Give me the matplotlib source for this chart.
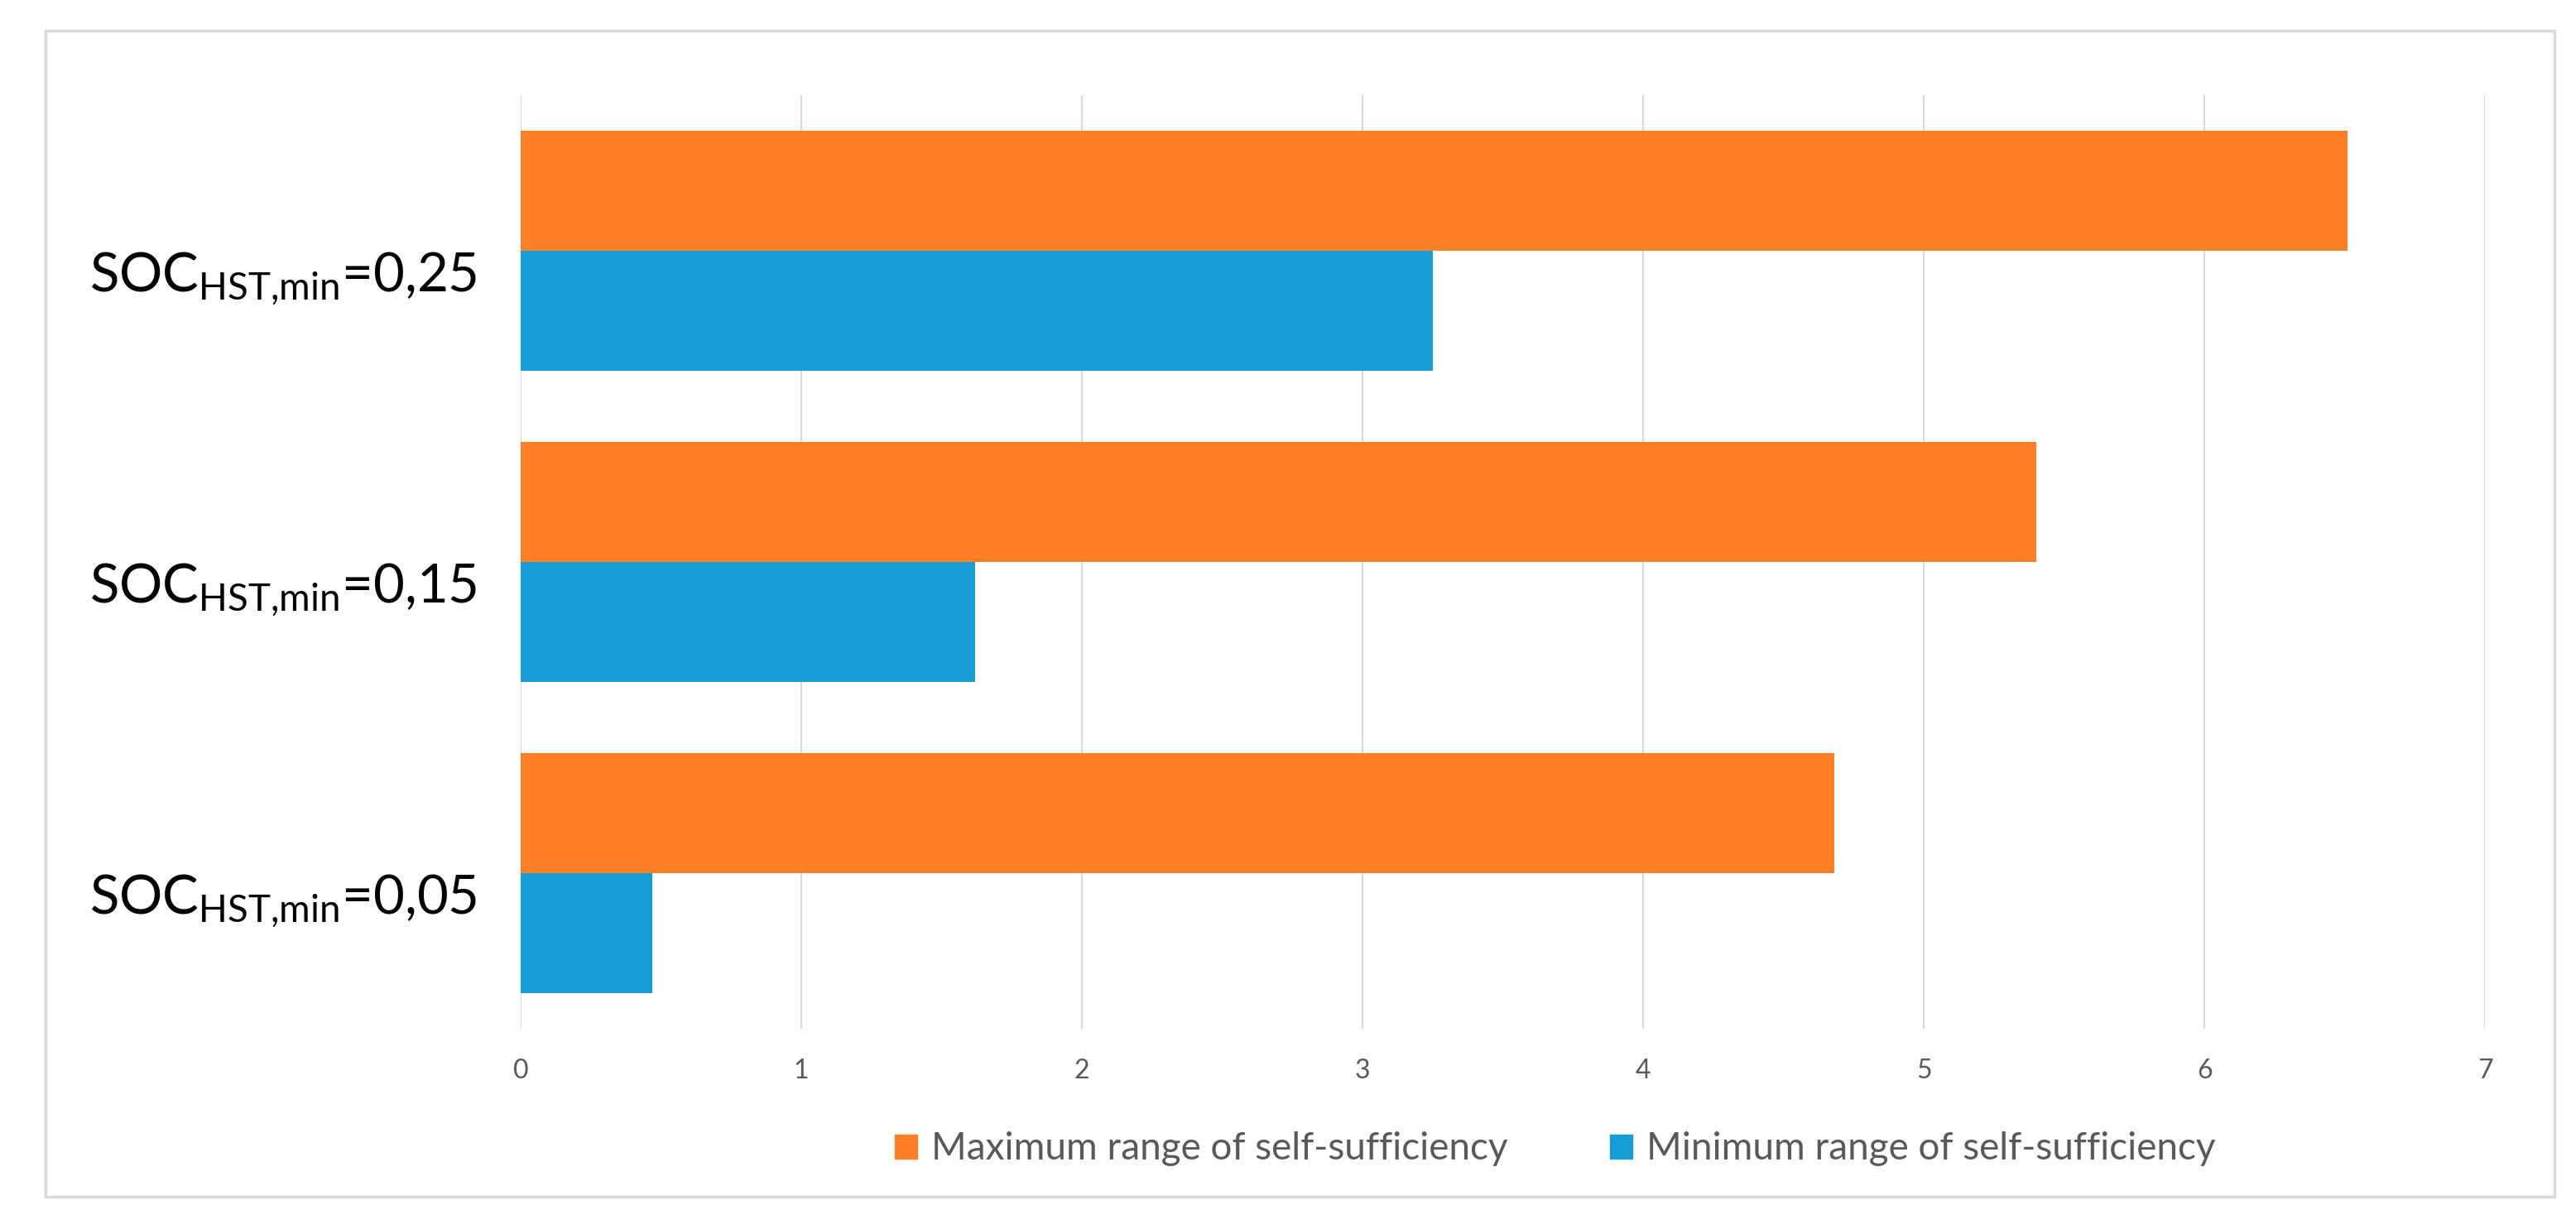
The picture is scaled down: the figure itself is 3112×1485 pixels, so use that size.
import matplotlib
matplotlib.use('Agg')
import matplotlib.pyplot as plt
from matplotlib.patches import Patch, Rectangle

plt.rcParams['font.family'] = ['Lato', 'DejaVu Sans']
plt.rcParams['mathtext.fontset'] = 'custom'
plt.rcParams['mathtext.rm'] = 'Lato'
plt.rcParams['mathtext.it'] = 'Lato:italic'
plt.rcParams['mathtext.bf'] = 'Lato:bold'

# data (bottom to top)
categories = ['0,05', '0,15', '0,25']
max_range = [4.68, 5.40, 6.51]
min_range = [0.47, 1.62, 3.25]
series_names = ['Maximum range of self-sufficiency', 'Minimum range of self-sufficiency']
x_ticks = [0, 1, 2, 3, 4, 5, 6, 7]

orange = '#FF7F27'
blue = '#179CD8'
grid_col = '#D9D9D9'
text_col = '#595959'

fig = plt.figure(figsize=(31.12, 14.85), dpi=100)
ax = fig.add_axes([0.2021, 0.1630, 0.7626, 0.7596])

h = 0.386
ypos = list(range(len(categories)))
ax.barh([y + h / 2 for y in ypos], max_range, height=h, color=orange, zorder=3)
ax.barh([y - h / 2 for y in ypos], min_range, height=h, color=blue, zorder=3)

ax.set_xlim(0, 7)
ax.set_ylim(-0.5, 2.5)
ax.set_xticks(x_ticks)
ax.set_xticklabels([str(t) for t in x_ticks])
ax.set_yticks(ypos)
# {,} keeps mathtext from adding space after the comma
ax.set_yticklabels([r'SOC$_{\mathrm{HST{,}min}}$=' + c for c in categories])

ax.grid(axis='x', color=grid_col, linewidth=1.5, zorder=0)
for s in ax.spines.values():
    s.set_visible(False)
ax.tick_params(axis='x', length=0, pad=26, labelsize=23, labelcolor=text_col)
ax.tick_params(axis='y', length=0, pad=38, labelsize=47, labelcolor='black')
for lbl in ax.get_yticklabels():
    lbl.set_va('top')
    lbl.set_y(lbl.get_position()[1])

handles = [Patch(color=orange), Patch(color=blue)]
fig.legend(handles, series_names, loc='center', bbox_to_anchor=(0.6036, 0.0650),
           ncol=2, frameon=False, fontsize=33, labelcolor=text_col,
           handlelength=0.59, handleheight=0.59, handletextpad=0.37, columnspacing=2.7)

# chart frame
fig.patches.append(Rectangle((55 / 3112, 1 - 1446 / 1485), (3086 - 55) / 3112, (1446 - 37) / 1485,
                             transform=fig.transFigure, fill=False, edgecolor=grid_col, linewidth=2.5))

fig.savefig('out.png', dpi=100, facecolor='white')
